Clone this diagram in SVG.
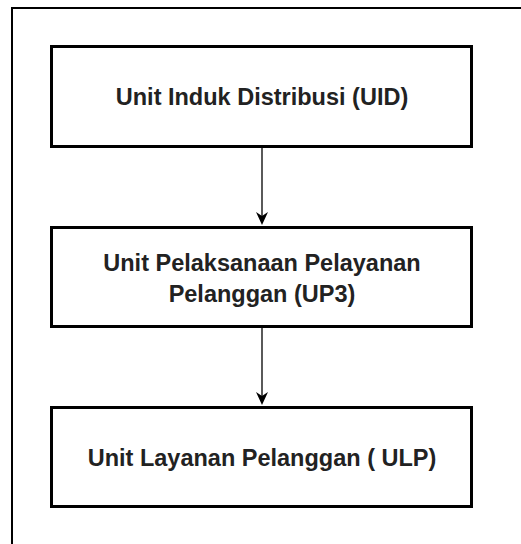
<svg xmlns="http://www.w3.org/2000/svg" width="521" height="544" viewBox="0 0 521 544">
<defs>
<style>
.box{fill:#fff;stroke:#000;stroke-width:3}
.lbl{font-family:"Liberation Sans",Arial,sans-serif;font-weight:bold;font-size:23.5px;fill:#222;text-anchor:middle}
.conn{stroke:#000;stroke-width:1.3;fill:none}
.head{fill:#000}
</style>
</defs>
<rect x="0" y="0" width="521" height="544" fill="#fff"/>
<rect x="12" y="8" width="540" height="560" fill="none" stroke="#000" stroke-width="2"/>
<g id="connectors">
<line class="conn" x1="262" y1="146" x2="262" y2="222"/>
<path class="head" d="M256,212 L262,216 L268,212 L262,225 Z"/>
<line class="conn" x1="262" y1="327" x2="262" y2="402"/>
<path class="head" d="M256,392 L262,396 L268,392 L262,405 Z"/>
</g>
<g id="uid">
<rect class="box" x="51.5" y="46.5" width="420" height="100"/>
<text class="lbl" x="262" y="105">Unit Induk Distribusi (UID)</text>
</g>
<g id="up3">
<rect class="box" x="51.5" y="227.5" width="420" height="99"/>
<text class="lbl" x="262" y="271">Unit Pelaksanaan Pelayanan</text>
<text class="lbl" x="262" y="302">Pelanggan (UP3)</text>
</g>
<g id="ulp">
<rect class="box" x="51.5" y="407.5" width="420" height="99"/>
<text class="lbl" x="262" y="466">Unit Layanan Pelanggan ( ULP)</text>
</g>
</svg>
